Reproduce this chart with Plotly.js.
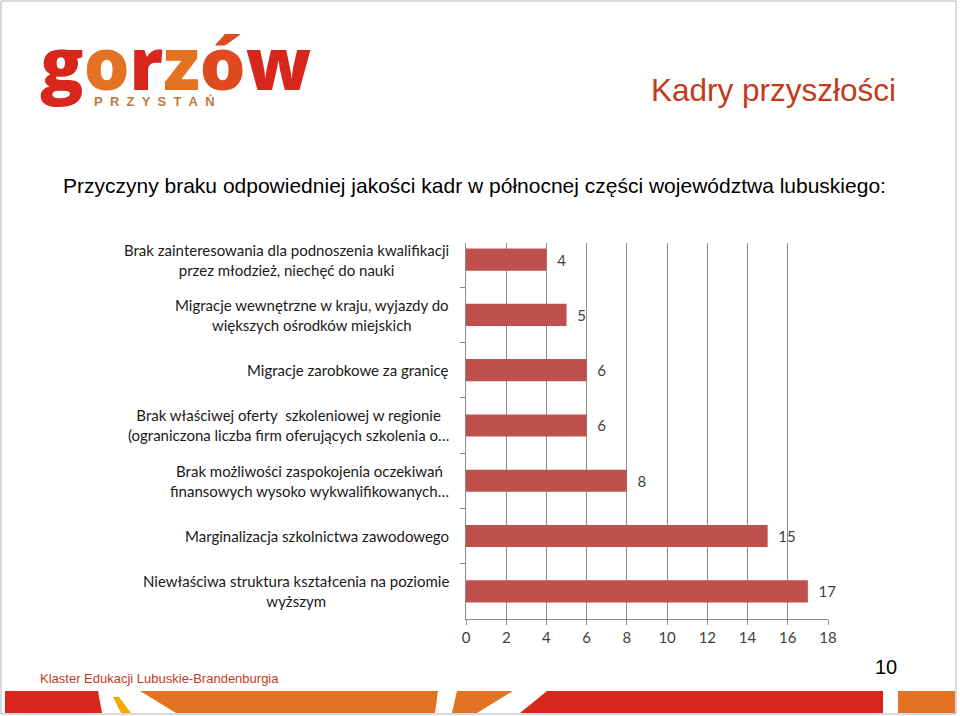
<!DOCTYPE html>
<html>
<head>
<meta charset="utf-8">
<script src="https://cdn.plot.ly/plotly-3.0.1.min.js"></script>
<style>html,body{margin:0;padding:0;background:#fff;}#chart{width:960px;height:716px;}</style>
</head>
<body>
<div id="chart"></div>
<script>
// ---- data ----
const categories = [
  "Brak zainteresowania dla podnoszenia kwalifikacji<br>przez młodzież, niechęć do nauki",
  "Migracje wewnętrzne w kraju, wyjazdy do<br>większych ośrodków miejskich",
  "Migracje zarobkowe za granicę",
  "Brak właściwej oferty  szkoleniowej w regionie<br>(ograniczona liczba firm oferujących szkolenia o…",
  "Brak możliwości zaspokojenia oczekiwań<br>finansowych wysoko wykwalifikowanych…",
  "Marginalizacja szkolnictwa zawodowego",
  "Niewłaściwa struktura kształcenia na poziomie<br>wyższym"
];
const values = [4, 5, 6, 6, 8, 15, 17];
const xTicks = [0, 2, 4, 6, 8, 10, 12, 14, 16, 18];

const titleText = "Kadry przyszłości";
const subtitleText = "Przyczyny braku odpowiedniej jakości kadr w północnej części województwa lubuskiego:";
const footerText = "Klaster Edukacji Lubuskie-Brandenburgia";
const pageNumber = "10";

// ---- helpers (figure pixel -> paper fraction) ----
const W = 960, H = 716;
const px = x => x / W;
const py = y => 1 - y / H;
function poly(pts, color) {
  const d = pts.map((p, i) => (i ? 'L' : 'M') + px(p[0]).toFixed(5) + ',' + py(p[1]).toFixed(5)).join(' ') + ' Z';
  return {type: 'path', xref: 'paper', yref: 'paper', path: d, fillcolor: color, line: {width: 0}, layer: 'above'};
}

const RED = '#D9261C', ORANGE = '#E37222', YELLOW = '#F2A900';
const LABEL_FONT = 'Lato, "Open Sans", sans-serif';

const trace = {
  type: 'bar',
  orientation: 'h',
  y: categories,
  x: values,
  width: 0.4,
  marker: {color: '#C0504D'},
  text: values.map(String),
  texttemplate: '\u00A0\u00A0%{x}',
  textposition: 'outside',
  constraintext: 'none',
  cliponaxis: false,
  textfont: {family: LABEL_FONT, size: 15, color: '#404040'},
  hoverinfo: 'skip'
};

const labelAnnotations = categories.map(c => ({
  xref: 'paper', yref: 'y', x: px(451), y: c,
  xanchor: 'right', yanchor: 'middle', align: 'center',
  text: c, showarrow: false,
  font: {family: LABEL_FONT, size: 15, color: '#1a1a1a'}
}));

const logoText = '<span style="color:' + RED + '">g</span>' +
  '<span style="color:' + ORANGE + '">o</span>' +
  '<span style="color:' + RED + '">r</span>' +
  '<span style="color:' + ORANGE + '">z</span>' +
  '<span style="color:#E04A1F">ó</span>' +
  '<span style="color:' + RED + '">w</span>';

const layout = {
  width: W, height: H,
  margin: {l: 0, r: 0, t: 0, b: 0},
  paper_bgcolor: '#ffffff', plot_bgcolor: '#ffffff',
  showlegend: false,
  xaxis: {
    domain: [px(466), px(828)],
    range: [0, 18],
    tickvals: xTicks,
    ticktext: xTicks.map(String),
    showgrid: true, gridcolor: '#8c8c8c', gridwidth: 1,
    zeroline: false,
    showline: true, linecolor: '#8c8c8c', linewidth: 1,
    ticks: 'outside', ticklen: 5, tickcolor: '#8c8c8c',
    tickfont: {family: LABEL_FONT, size: 15, color: '#404040'},
    fixedrange: true, automargin: false
  },
  yaxis: {
    domain: [py(619), py(243)],
    type: 'category',
    range: [6.5, -0.3],
    showticklabels: false,
    tickson: 'boundaries',
    ticks: 'outside', ticklen: 5, tickcolor: '#8c8c8c',
    showgrid: false, zeroline: false,
    showline: true, linecolor: '#8c8c8c', linewidth: 1,
    fixedrange: true, automargin: false
  },
  annotations: labelAnnotations.concat([
    {xref: 'paper', yref: 'paper', x: px(38), y: py(62), xanchor: 'left', yanchor: 'middle',
     text: logoText, showarrow: false,
     font: {family: '"Open Sans", sans-serif', size: 72, weight: 800, color: RED}},
    {xref: 'paper', yref: 'paper', x: px(92), y: py(101), xanchor: 'left', yanchor: 'middle',
     text: 'P\u00A0\u00A0R\u00A0\u00A0Z\u00A0\u00A0Y\u00A0\u00A0S\u00A0\u00A0T\u00A0\u00A0A\u00A0\u00A0Ń', showarrow: false,
     font: {family: '"Liberation Sans", Arial, sans-serif', size: 13, weight: 'bold', color: '#BE7A3C'}},
    {xref: 'paper', yref: 'paper', x: px(898), y: py(90), xanchor: 'right', yanchor: 'middle',
     text: titleText, showarrow: false,
     font: {family: '"Liberation Sans", Arial, sans-serif', size: 31.5, color: '#C23B1B'}},
    {xref: 'paper', yref: 'paper', x: px(61), y: py(185), xanchor: 'left', yanchor: 'middle',
     text: subtitleText, showarrow: false,
     font: {family: '"Liberation Sans", Arial, sans-serif', size: 21, color: '#000000'}},
    {xref: 'paper', yref: 'paper', x: px(38), y: py(678), xanchor: 'left', yanchor: 'middle',
     text: footerText, showarrow: false,
     font: {family: '"Liberation Sans", Arial, sans-serif', size: 13, color: '#C23B1B'}},
    {xref: 'paper', yref: 'paper', x: px(899), y: py(667), xanchor: 'right', yanchor: 'middle',
     text: pageNumber, showarrow: false,
     font: {family: '"Liberation Sans", Arial, sans-serif', size: 20, color: '#000000'}}
  ]),
  shapes: [
    {type: 'rect', xref: 'paper', yref: 'paper', x0: px(1), x1: px(956), y0: py(714), y1: py(1),
     line: {color: '#b5b5b5', width: 1}, fillcolor: 'rgba(0,0,0,0)', layer: 'below'},
    poly([[5,691],[98,691],[102,713],[5,713]], RED),
    poly([[113,697],[119,697],[131,713],[121,713]], YELLOW),
    poly([[140,691],[438,691],[435,713],[176,713]], ORANGE),
    poly([[457,691],[513,691],[477,713],[452,713]], ORANGE),
    poly([[547,691],[883,691],[883,713],[520,713]], RED),
    poly([[898,691],[955,691],[955,713],[898,713]], ORANGE)
  ]
};

Plotly.newPlot('chart', [trace], layout, {displayModeBar: false, staticPlot: true});
</script>
</body>
</html>
